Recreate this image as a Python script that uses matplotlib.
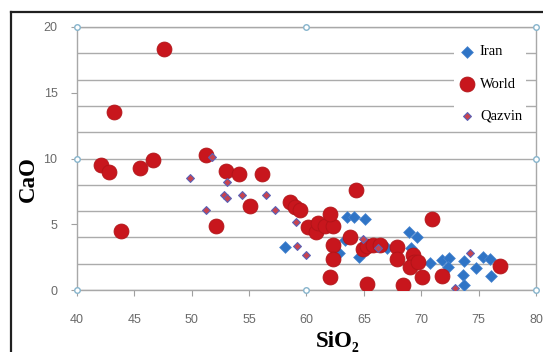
import matplotlib
matplotlib.use("Agg")
import matplotlib.pyplot as plt
from matplotlib.lines import Line2D
from matplotlib.ticker import MultipleLocator

# SiO2 / CaO values
world_x = [42.1, 42.8, 43.2, 43.8, 45.5, 46.65, 47.6, 51.2, 52.1, 53.0, 54.1, 55.1,
           56.1, 58.6, 59.0, 59.4, 60.15, 60.8, 61.0, 61.6, 62.3, 62.05, 62.35, 62.3,
           62.05, 63.8, 64.3, 64.95, 65.25, 65.8, 66.4, 65.25, 67.9, 67.9, 68.4, 69.25,
           69.4, 69.0, 69.7, 70.05, 70.9, 71.8, 76.9]
world_y = [9.5, 9.0, 13.5, 4.5, 9.3, 9.9, 18.3, 10.3, 4.9, 9.05, 8.8, 6.4,
           8.8, 6.7, 6.35, 6.1, 4.8, 4.4, 5.1, 4.9, 4.9, 5.8, 3.4, 2.35,
           1.0, 4.05, 7.6, 3.1, 3.35, 3.4, 3.45, 0.43, 3.3, 2.35, 0.37, 2.66,
           2.1, 1.73, 2.15, 1.0, 5.4, 1.08, 1.8]

iran_x = [58.1, 63.5, 64.1, 65.1, 63.35, 62.8, 64.6, 67.0, 68.9, 69.6, 69.1, 70.8,
          71.8, 72.4, 72.3, 73.7, 73.6, 73.7, 74.8, 75.35, 75.95, 76.05]
iran_y = [3.3, 5.55, 5.55, 5.38, 3.8, 2.8, 2.5, 3.17, 4.4, 4.05, 3.2, 2.08,
          2.28, 2.45, 1.75, 2.2, 1.14, 0.38, 1.65, 2.53, 2.35, 1.05]

qazvin_x = [49.85, 51.8, 51.2, 53.05, 52.8, 53.05, 54.35, 56.45, 57.25, 59.1, 59.2,
            60.0, 64.95, 66.25, 74.25, 72.95]
qazvin_y = [8.55, 10.1, 6.05, 8.2, 7.2, 7.0, 7.2, 7.2, 6.1, 5.2, 3.35,
            2.65, 3.9, 3.2, 2.85, 0.18]

xticks = [40, 45, 50, 55, 60, 65, 70, 75, 80]
yticks = [0, 5, 10, 15, 20]

fig = plt.figure(figsize=(5.43, 3.52), dpi=100)
ax = fig.add_axes([0.1418, 0.1761, 0.8453, 0.7472])

ax.scatter(iran_x, iran_y, marker="D", s=36, color="#2F74C6", edgecolor="#4A86D0",
           linewidth=0.5, label="Iran", zorder=3)
ax.scatter(world_x, world_y, marker="o", s=115, color="#C8161D", edgecolor="#B01418",
           linewidth=0.6, label="World", zorder=4)
ax.scatter(qazvin_x, qazvin_y, marker="D", s=16, color="#C9434E", edgecolor="#5A63B8",
           linewidth=0.8, label="Qazvin", zorder=5)

ax.set_xlim(40, 80)
ax.set_ylim(0, 20)
ax.set_xticks(xticks)
ax.set_yticks(yticks)
ax.yaxis.set_minor_locator(MultipleLocator(2))
ax.yaxis.remove_overlapping_locs = False
ax.grid(True, which="minor", axis="y", color="#ABABAB", linewidth=1.0)
ax.grid(False, axis="x")
ax.tick_params(axis="y", which="minor", length=0)
ax.tick_params(axis="both", which="major", direction="out", length=4, color="#A0A0A0",
               labelcolor="#6A6A6A", labelsize=9)
ax.tick_params(axis="x", pad=13)
ax.tick_params(axis="y", pad=10)
ax.set_xticklabels([str(v) for v in xticks], fontfamily="Liberation Sans")
ax.set_yticklabels([str(v) for v in yticks], fontfamily="Liberation Sans")
for s in ax.spines.values():
    s.set_color("#A8A8A8")
    s.set_linewidth(1.0)

# selection handles at the plot-area corners
hx = [40, 60, 80, 80, 40, 40, 60, 80]
hy = [20, 20, 20, 10, 10, 0, 0, 0]
ax.plot(hx, hy, linestyle="none", marker="o", markersize=4, mfc="white",
        mec="#86B4CC", mew=1.0, clip_on=False, zorder=6)

leg = ax.legend(loc="upper right", bbox_to_anchor=(0.995, 0.975), frameon=True,
                facecolor="white", edgecolor="none", framealpha=1, fancybox=False,
                labelspacing=1.3, handletextpad=0.3, handlelength=1.2, borderpad=0.3,
                prop={"family": "Liberation Serif", "size": 10.5})

fig.text(0.052, 0.49, "CaO", rotation=90, ha="center", va="center",
         fontfamily="Liberation Serif", fontweight="bold", fontsize=16.5)
fig.text(0.622, 0.03, "SiO\u2082", ha="center", va="center",
         fontfamily="Liberation Serif", fontweight="bold", fontsize=16.5)

# outer frame of the pasted chart
fig.add_artist(Line2D([0.021, 0.021], [0.0, 0.966], transform=fig.transFigure,
                      color="#202020", linewidth=1.6))
fig.add_artist(Line2D([0.021, 1.0], [0.966, 0.966], transform=fig.transFigure,
                      color="#202020", linewidth=1.6))

fig.savefig("out.png", dpi=100)
